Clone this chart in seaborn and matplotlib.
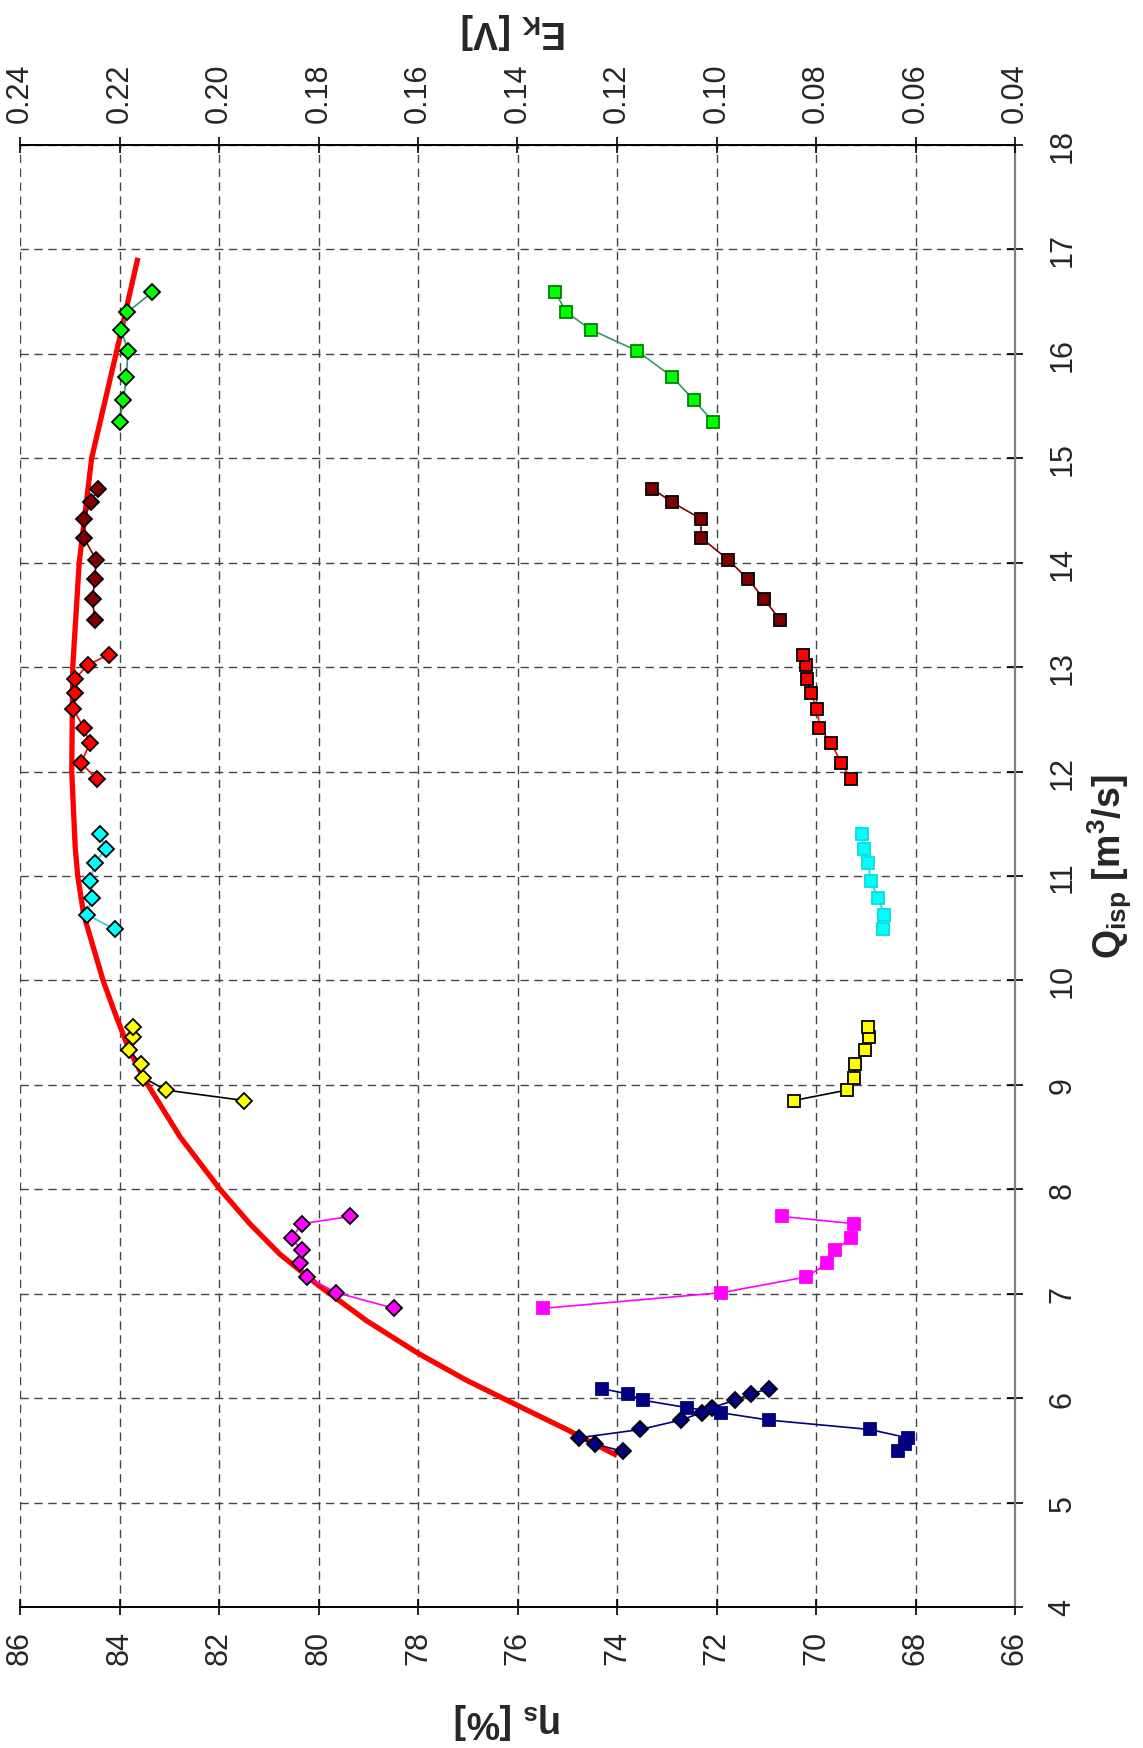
import numpy as np
import pandas as pd
import matplotlib
matplotlib.use("Agg")
import matplotlib.pyplot as plt
import seaborn as sns

# ---------------- data ----------------
# fitted efficiency envelope (Q, eta_s)
curve_Q   = [5.45, 5.70, 5.93, 6.17, 6.43, 6.74, 7.08, 7.38, 7.67, 8.00, 8.50, 9.07, 9.33, 9.66, 10.00, 10.63, 11.00, 11.27, 12.00, 13.00, 14.00, 15.00, 16.00, 16.92]
curve_eta = [74.00, 75.01, 76.00, 77.02, 78.00, 79.03, 80.00, 80.78, 81.38, 81.98, 82.78, 83.52, 83.80, 84.07, 84.33, 84.72, 84.84, 84.89, 84.96, 84.94, 84.81, 84.56, 84.07, 83.63]

navy_Q   = [5.49, 5.56, 5.62, 5.70, 5.79, 5.86, 5.91, 5.98, 6.04, 6.09]
navy_eta = [73.88, 74.44, 74.77, 73.53, 72.72, 72.30, 72.09, 71.63, 71.31, 70.95]
navy_Ek  = [0.0635, 0.0621, 0.0616, 0.0692, 0.0895, 0.0991, 0.1060, 0.1148, 0.1177, 0.1230]

magenta_Q   = [6.86, 7.01, 7.16, 7.29, 7.42, 7.53, 7.67, 7.74]
magenta_eta = [78.48, 79.64, 80.24, 80.38, 80.34, 80.54, 80.34, 79.36]
magenta_Ek  = [0.1348, 0.0990, 0.0820, 0.0777, 0.0762, 0.0730, 0.0723, 0.0868]

yellow_Q   = [8.85, 8.95, 9.07, 9.20, 9.33, 9.46, 9.55]
yellow_eta = [81.49, 83.07, 83.52, 83.57, 83.80, 83.72, 83.72]
yellow_Ek  = [0.0845, 0.0738, 0.0723, 0.0721, 0.0702, 0.0693, 0.0695]

cyan_Q   = [10.49, 10.63, 10.79, 10.95, 11.12, 11.26, 11.40]
cyan_eta = [84.10, 84.65, 84.56, 84.59, 84.50, 84.28, 84.39]
cyan_Ek  = [0.0666, 0.0663, 0.0675, 0.0690, 0.0695, 0.0704, 0.0708]

red_Q   = [11.93, 12.08, 12.27, 12.42, 12.60, 12.75, 12.89, 13.02, 13.12]
red_eta = [84.46, 84.77, 84.60, 84.72, 84.93, 84.89, 84.89, 84.64, 84.22]
red_Ek  = [0.0730, 0.0749, 0.0769, 0.0793, 0.0797, 0.0811, 0.0818, 0.0821, 0.0826]

maroon_Q   = [13.45, 13.65, 13.84, 14.03, 14.24, 14.42, 14.58, 14.71]
maroon_eta = [84.50, 84.54, 84.50, 84.47, 84.72, 84.72, 84.57, 84.44]
maroon_Ek  = [0.0872, 0.0904, 0.0936, 0.0977, 0.1031, 0.1031, 0.1090, 0.1129]

green_Q   = [15.35, 15.56, 15.78, 16.03, 16.23, 16.40, 16.59]
green_eta = [84.00, 83.92, 83.86, 83.83, 83.97, 83.84, 83.34]
green_Ek  = [0.1007, 0.1046, 0.1089, 0.1160, 0.1252, 0.1302, 0.1324]

eta_ticks = [86, 84, 82, 80, 78, 76, 74, 72, 70, 68, 66]
Ek_ticks  = [0.24, 0.22, 0.20, 0.18, 0.16, 0.14, 0.12, 0.10, 0.08, 0.06, 0.04]
Q_ticks   = list(range(4, 19))

# ---------------- style ----------------
sns.set_theme(style="white")
plt.rcParams["font.family"] = ["Liberation Sans", "DejaVu Sans"]
plt.rcParams["mathtext.fontset"] = "custom"
plt.rcParams["mathtext.rm"] = "Liberation Sans"
plt.rcParams["mathtext.bf"] = "Liberation Sans:bold"
plt.rcParams["mathtext.it"] = "Liberation Sans:italic"

fig = plt.figure(figsize=(11.43, 17.49), dpi=100)
ax = fig.add_axes([20 / 1143, 141 / 1749, 995 / 1143, 1462 / 1749])
ax2 = ax.twiny()

# envelope curve
sns.lineplot(x=curve_eta, y=curve_Q, sort=False, estimator=None, color="#FF0000",
             linewidth=3.8, ax=ax, zorder=2, solid_capstyle="butt",
             solid_joinstyle="round")

series = [
    (navy_Q, navy_eta, navy_Ek, "#000080", "#000080", "#000080", "#000080"),
    (magenta_Q, magenta_eta, magenta_Ek, "#FF00FF", "#FF00FF", "#FF00FF", "#FF00FF"),
    (yellow_Q, yellow_eta, yellow_Ek, "#FFFF00", "#000000", "#000000", "#000000"),
    (cyan_Q, cyan_eta, cyan_Ek, "#00FFFF", "#33CCCC", "#33CCCC", "#00E0E0"),
    (red_Q, red_eta, red_Ek, "#FF0000", "#FF0000", "#FF0000", "#000000"),
    (maroon_Q, maroon_eta, maroon_Ek, "#800000", "#800000", "#800000", "#000000"),
    (green_Q, green_eta, green_Ek, "#00FF00", "#339966", "#339966", "#008000"),
]

for Q, eta, Ek, fc, lc_d, lc_s, sq_edge in series:
    sns.lineplot(x=eta, y=Q, sort=False, estimator=None, color=lc_d, linewidth=1.2,
                 marker="D", markersize=8.5, markerfacecolor=fc,
                 markeredgecolor="#000000", markeredgewidth=1.3, ax=ax, zorder=4)
    sns.lineplot(x=Ek, y=Q, sort=False, estimator=None, color=lc_s, linewidth=1.2,
                 marker="s", markersize=8.5, markerfacecolor=fc,
                 markeredgecolor=sq_edge, markeredgewidth=1.3, ax=ax2, zorder=4)

# ---------------- axes ----------------
ax.set_xlim(86, 66)
ax.set_ylim(4, 18)
ax2.set_xlim(0.24, 0.04)
ax2.set_ylim(4, 18)

ax.set_xticks(eta_ticks)
ax.set_xticklabels([str(t) for t in eta_ticks])
ax.set_yticks(Q_ticks)
ax.set_yticklabels([str(t) for t in Q_ticks])
ax2.set_xticks(Ek_ticks)
ax2.set_xticklabels([f"{t:.2f}" for t in Ek_ticks])

ax.yaxis.tick_right()
ax.set_xlabel("")
ax.set_ylabel("")
ax2.set_xlabel("")
ax2.set_ylabel("")

ax.grid(True, color="#444444", linestyle=(0, (6, 4)), linewidth=1.0)
ax.set_axisbelow(True)

for a in (ax, ax2):
    a.spines["left"].set_visible(False)
ax.spines["bottom"].set_color("black")
ax.spines["bottom"].set_linewidth(1.4)
ax2.spines["top"].set_color("black")
ax2.spines["top"].set_linewidth(1.4)
ax.spines["right"].set_color("#808080")
ax.spines["right"].set_linewidth(1.6)
ax2.spines["right"].set_visible(False)
ax2.spines["bottom"].set_visible(False)
ax.spines["top"].set_visible(False)

ax.tick_params(axis="x", bottom=True, direction="inout", length=11, width=1.2,
               color="black", labelsize=22, labelrotation=90, pad=11)
ax.tick_params(axis="y", right=True, left=False, direction="inout", length=11,
               width=1.2, color="black", labelsize=22, labelrotation=90, pad=18)
ax2.tick_params(axis="x", top=True, direction="inout", length=11, width=1.2,
                color="black", labelsize=22, labelrotation=90, pad=11)
for lab in ax.get_yticklabels():
    lab.set_va("center")

# axis titles (rotated chart)
fig.text(1110 / 1143, 1 - 867 / 1749, r"$\mathbf{Q_{isp}\ [m^{3}/s]}$", rotation=90,
         ha="center", va="center", fontsize=27)
fig.text(508 / 1143, 1 - 1721 / 1749, r"$\mathbf{η_{s}\ [\%]}$", rotation=180,
         ha="center", va="center", fontsize=27)
fig.text(514 / 1143, 1 - 31 / 1749, r"$\mathbf{E_{K}\ [V]}$", rotation=180,
         ha="center", va="center", fontsize=27)

fig.savefig("out.png", dpi=100, facecolor="white")
